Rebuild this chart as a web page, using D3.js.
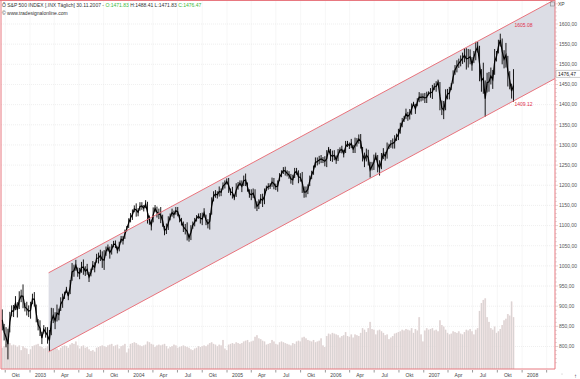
<!DOCTYPE html>
<html><head><meta charset="utf-8">
<script src="https://cdn.jsdelivr.net/npm/d3@7"></script>
<style>
html,body{margin:0;padding:0;background:#fff;}
svg{display:block;}
text{font-family:"Liberation Sans",Arial,sans-serif;}
</style></head><body>
<svg id="chart" width="580" height="379"></svg>
<script>
// ---- data (weekly, Friday dates starting at firstWeek) ----
const firstWeek = "2002-09-20";
const low02  = [840, 815, 798, 768, 835, 875, 873, 890, 872, 893, 910, 895, 887, 877, 873];
const high02 = [892, 856, 848, 844, 886, 902, 903, 925, 910, 937, 941, 954, 908, 911, 902];
const low03  = [869, 905, 899, 860, 840, 826, 806, 832, 822, 807, 789, 828, 858, 843, 862, 865, 888, 896, 918, 933, 915, 930, 963, 973, 988, 973, 967, 983, 978, 975, 978, 960, 974, 990, 984, 1008, 1006, 1012, 995, 990, 1025, 1036, 1018, 1028, 1046, 1044, 1031, 1036, 1058, 1053, 1067, 1086];
const high03 = [911, 931, 935, 904, 868, 865, 836, 853, 848, 848, 841, 896, 895, 885, 904, 894, 922, 931, 936, 948, 935, 965, 1007, 1003, 1015, 996, 995, 1010, 1016, 999, 1005, 985, 993, 1012, 1009, 1030, 1033, 1040, 1036, 1039, 1048, 1053, 1048, 1054, 1062, 1063, 1048, 1060, 1074, 1074, 1090, 1099];
const low04  = [1094, 1108, 1114, 1133, 1122, 1123, 1137, 1139, 1135, 1143, 1105, 1102, 1088, 1108, 1133, 1120, 1116, 1106, 1097, 1076, 1079, 1089, 1113, 1122, 1118, 1127, 1123, 1108, 1100, 1084, 1078, 1063, 1060, 1064, 1092, 1098, 1110, 1117, 1105, 1101, 1120, 1101, 1093, 1090, 1127, 1160, 1169, 1167, 1172, 1173, 1189, 1192, 1202];
const high04 = [1118, 1131, 1140, 1150, 1155, 1143, 1158, 1158, 1151, 1163, 1159, 1125, 1115, 1145, 1151, 1147, 1142, 1146, 1127, 1099, 1105, 1123, 1130, 1142, 1137, 1146, 1146, 1127, 1119, 1110, 1104, 1108, 1080, 1101, 1110, 1119, 1126, 1130, 1131, 1132, 1143, 1127, 1116, 1131, 1170, 1185, 1188, 1185, 1197, 1192, 1207, 1212, 1217];
const low05  = [1181, 1175, 1167, 1163, 1171, 1189, 1198, 1183, 1198, 1198, 1184, 1169, 1163, 1168, 1142, 1136, 1141, 1154, 1146, 1153, 1186, 1189, 1191, 1196, 1190, 1188, 1184, 1210, 1220, 1228, 1224, 1222, 1216, 1204, 1201, 1218, 1226, 1205, 1209, 1181, 1169, 1170, 1178, 1198, 1215, 1226, 1244, 1249, 1252, 1255, 1255, 1247];
const high05 = [1218, 1192, 1196, 1177, 1205, 1208, 1212, 1212, 1224, 1229, 1207, 1190, 1190, 1192, 1190, 1160, 1165, 1178, 1179, 1192, 1199, 1205, 1205, 1219, 1218, 1204, 1212, 1230, 1237, 1245, 1246, 1237, 1235, 1228, 1226, 1243, 1243, 1237, 1230, 1233, 1197, 1197, 1202, 1224, 1236, 1249, 1269, 1269, 1273, 1275, 1270, 1272];
const low06  = [1245, 1282, 1260, 1258, 1262, 1253, 1260, 1280, 1279, 1269, 1280, 1295, 1290, 1292, 1280, 1280, 1296, 1303, 1291, 1259, 1245, 1259, 1249, 1219, 1237, 1238, 1263, 1232, 1224, 1240, 1265, 1261, 1266, 1290, 1293, 1291, 1291, 1310, 1312, 1328, 1344, 1357, 1364, 1360, 1363, 1375, 1397, 1377, 1396, 1406, 1408, 1410];
const high06 = [1287, 1295, 1290, 1286, 1287, 1274, 1290, 1294, 1298, 1288, 1310, 1310, 1306, 1315, 1300, 1318, 1317, 1326, 1327, 1295, 1281, 1291, 1288, 1258, 1258, 1276, 1281, 1275, 1262, 1280, 1292, 1283, 1306, 1303, 1312, 1316, 1324, 1328, 1340, 1355, 1367, 1372, 1390, 1382, 1389, 1403, 1407, 1402, 1416, 1431, 1428, 1428];
const low07  = [1404, 1404, 1423, 1417, 1414, 1436, 1432, 1448, 1386, 1374, 1364, 1386, 1413, 1413, 1436, 1452, 1474, 1480, 1491, 1495, 1501, 1505, 1487, 1492, 1500, 1484, 1503, 1510, 1529, 1458, 1432, 1427, 1370, 1430, 1432, 1450, 1439, 1474, 1507, 1527, 1544, 1500, 1490, 1492, 1445, 1438, 1415, 1407];
const high07 = [1429, 1432, 1433, 1441, 1449, 1453, 1458, 1462, 1456, 1410, 1409, 1438, 1439, 1444, 1453, 1485, 1498, 1510, 1514, 1522, 1529, 1540, 1540, 1538, 1537, 1518, 1533, 1556, 1556, 1546, 1488, 1504, 1460, 1479, 1481, 1492, 1486, 1538, 1533, 1561, 1576, 1564, 1535, 1553, 1521, 1483, 1452, 1488];
// average daily volume per week, billions of shares
const vol02 = [1.35, 1.45, 1.6, 1.75, 1.65, 1.5, 1.55, 1.5, 1.4, 1.5, 1.2, 1.45, 1.35, 1.3, 0.95];
const vol03 = [1.25, 1.45, 1.5, 1.55, 1.6, 1.45, 1.4, 1.3, 1.35, 1.45, 1.6, 1.55, 1.35, 1.4, 1.3, 1.2, 1.35, 1.45, 1.5, 1.45, 1.35, 1.55, 1.65, 1.6, 1.75, 1.5, 1.3, 1.45, 1.5, 1.35, 1.4, 1.25, 1.15, 1.2, 1.1, 1.35, 1.4, 1.45, 1.5, 1.45, 1.4, 1.5, 1.55, 1.6, 1.45, 1.5, 1.55, 1.3, 1.45, 1.5, 1.6, 1.05];
const vol04 = [1.3, 1.6, 1.65, 1.7, 1.65, 1.55, 1.5, 1.45, 1.5, 1.55, 1.75, 1.7, 1.6, 1.55, 1.4, 1.5, 1.55, 1.5, 1.55, 1.6, 1.45, 1.3, 1.4, 1.45, 1.55, 1.5, 1.35, 1.4, 1.45, 1.5, 1.45, 1.4, 1.35, 1.25, 1.2, 1.3, 1.35, 1.45, 1.4, 1.45, 1.5, 1.45, 1.55, 1.65, 1.7, 1.6, 1.55, 1.45, 1.55, 1.5, 1.85, 1.3, 1.2];
const vol05 = [1.55, 1.6, 1.65, 1.6, 1.7, 1.65, 1.6, 1.65, 1.75, 1.8, 1.85, 1.7, 1.75, 1.8, 2.05, 2.15, 1.95, 1.9, 1.8, 1.75, 1.55, 1.6, 1.65, 1.85, 1.75, 1.6, 1.55, 1.7, 1.75, 1.7, 1.65, 1.6, 1.55, 1.5, 1.65, 1.6, 1.75, 1.8, 1.75, 2.0, 2.05, 1.95, 1.85, 1.8, 1.75, 1.85, 1.7, 1.75, 1.8, 1.95, 1.5, 1.4];
const vol06 = [2.1, 2.25, 2.2, 2.3, 2.25, 2.2, 2.15, 2.0, 2.1, 2.15, 2.35, 2.1, 2.05, 2.2, 2.0, 2.2, 2.15, 2.1, 2.3, 2.6, 2.5, 2.35, 2.6, 3.0, 2.55, 2.5, 2.2, 2.45, 2.5, 2.4, 2.3, 2.15, 2.2, 1.9, 2.0, 2.1, 2.25, 2.3, 2.35, 2.4, 2.5, 2.45, 2.55, 2.5, 2.45, 2.6, 2.3, 2.55, 2.45, 3.3, 2.2, 1.75];
const vol07 = [2.45, 2.6, 2.5, 2.55, 2.6, 2.45, 2.5, 2.4, 3.1, 2.8, 2.7, 2.5, 2.3, 2.2, 2.25, 2.4, 2.35, 2.3, 2.4, 2.25, 2.2, 2.35, 2.5, 2.45, 2.55, 2.4, 2.2, 2.5, 2.6, 3.7, 4.2, 4.4, 4.5, 3.3, 3.0, 2.6, 2.5, 2.7, 2.3, 2.4, 2.55, 2.8, 3.1, 3.2, 3.5, 3.4, 4.3, 3.3];

// regression channel (anchor dates and values)
const channelDates = ["2003-03-11", "2007-11-30"];
const channelLower = [786.8, 1409.12];
const channelUpper = [982.84, 1605.08];

const priceTicks = [800, 850, 900, 950, 1000, 1050, 1100, 1150, 1200, 1250, 1300, 1350, 1400, 1450, 1500, 1550, 1600];
const monthNames = {0: null, 3: "Apr", 6: "Jul", 9: "Okt"};
const lastClose = 1476.47;
const titleParts = [
  {t: "Ô S&P 500 INDEX [.INX Täglich] 30.11.2007 - ", c: "#333"},
  {t: "O:1471.83 ", c: "#3cb83c"},
  {t: "H:1488.41 L:1471.83 ", c: "#333"},
  {t: "C:1476.47", c: "#3cb83c"}
];

// ---- build ----
const lows = [].concat(low02, low03, low04, low05, low06, low07);
const highs = [].concat(high02, high03, high04, high05, high06, high07);
const vols = [].concat(vol02, vol03, vol04, vol05, vol06, vol07);
const parse = d3.utcParse("%Y-%m-%d");
const w0 = parse(firstWeek);
const weeks = lows.map((l, i) => ({date: d3.utcDay.offset(w0, 7 * i), low: l, high: highs[i], vol: vols[i]}));

const L = 1, R = 555, T = 0.5, B = 369;
const x = d3.scaleUtc().domain([Date.UTC(2002, 8, 19), Date.UTC(2008, 4, 2)]).range([2, R]);
const y = d3.scaleLinear().domain([800, 1600]).range([346.5, 24]);
const yv = d3.scaleLinear().domain([0, 6]).range([B, B - 94.2]);

const svg = d3.select("#chart");
svg.append("defs").append("clipPath").attr("id", "plot")
  .append("rect").attr("x", L).attr("y", T).attr("width", R - L).attr("height", B - T);

const plot = svg.append("g").attr("clip-path", "url(#plot)");

// grid
const qTicks = x.ticks(d3.utcMonth.every(3));
plot.selectAll(".vg").data(qTicks).join("line")
  .attr("x1", d => x(d)).attr("x2", d => x(d)).attr("y1", T).attr("y2", B)
  .attr("stroke", "#e4e4e4").attr("stroke-width", 0.6).attr("stroke-dasharray", "1,1");
plot.selectAll(".hg").data(priceTicks).join("line")
  .attr("x1", L).attr("x2", R).attr("y1", d => y(d)).attr("y2", d => y(d))
  .attr("stroke", "#e4e4e4").attr("stroke-width", 0.6).attr("stroke-dasharray", "1,1");

// volume
const bw = x(d3.utcDay.offset(w0, 7)) - x(w0);
plot.selectAll(".vb").data(weeks).join("rect")
  .attr("x", d => x(d.date) - bw / 2).attr("width", bw)
  .attr("y", d => yv(d.vol)).attr("height", d => B - yv(d.vol))
  .attr("fill", "#f0e0e0");
plot.selectAll(".vl").data(weeks).join("rect")
  .attr("x", d => x(d.date) - 0.45).attr("width", 0.9)
  .attr("y", d => yv(d.vol)).attr("height", d => B - yv(d.vol))
  .attr("fill", "#d6d2d2");

// channel
const c0 = parse(channelDates[0]), c1 = parse(channelDates[1]);
const xEnd = x.domain()[1];
const ext = (vals) => vals[0] + (vals[1] - vals[0]) * (xEnd - c0) / (c1 - c0);
const poly = [[c0, channelLower[0]], [xEnd, ext(channelLower)], [xEnd, ext(channelUpper)], [c0, channelUpper[0]]];
plot.append("path")
  .attr("d", d3.line().x(d => x(d[0])).y(d => y(d[1]))(poly) + "Z")
  .attr("fill", "#dcdde5");

// price bars
plot.selectAll(".pb").data(weeks).join("line")
  .attr("x1", d => x(d.date)).attr("x2", d => x(d.date))
  .attr("y1", d => y(d.low)).attr("y2", d => y(d.high))
  .attr("stroke", "#000").attr("stroke-width", 0.9);
plot.append("path").datum(weeks)
  .attr("d", d3.line().x(d => x(d.date)).y(d => y((d.low + d.high) / 2)))
  .attr("fill", "none").attr("stroke", "#000").attr("stroke-width", 1.2);

// channel lines
[channelLower, channelUpper].forEach(v => {
  plot.append("line")
    .attr("x1", x(c0)).attr("y1", y(v[0])).attr("x2", x(xEnd)).attr("y2", y(ext(v)))
    .attr("stroke", "#e8646e").attr("stroke-width", 0.9);
});
svg.append("text").attr("x", x(c1) + 1).attr("y", y(channelUpper[1]) + 5.5)
  .attr("font-size", 5).attr("fill", "#e0304a").text(channelUpper[1].toFixed(2));
svg.append("text").attr("x", x(c1) + 1).attr("y", y(channelLower[1]) + 5.5)
  .attr("font-size", 5).attr("fill", "#e0304a").text(channelLower[1].toFixed(2));

// frame
svg.append("line").attr("x1", 1).attr("x2", 1).attr("y1", 0).attr("y2", B).attr("stroke", "#e87880").attr("stroke-width", 1);
svg.append("line").attr("x1", 0).attr("x2", R).attr("y1", 0.5).attr("y2", 0.5).attr("stroke", "#e87880").attr("stroke-width", 1);
svg.append("line").attr("x1", R).attr("x2", R).attr("y1", 0).attr("y2", B).attr("stroke", "#e87880").attr("stroke-width", 1);
svg.append("line").attr("x1", 1).attr("x2", R).attr("y1", B).attr("y2", B).attr("stroke", "#e87880").attr("stroke-width", 1);

// x axis
const xg = svg.append("g");
qTicks.forEach(d => {
  const px = x(d);
  xg.append("line").attr("x1", px).attr("x2", px).attr("y1", B + 1).attr("y2", B + 3.5)
    .attr("stroke", "#555").attr("stroke-width", 0.6);
  const m = d.getUTCMonth();
  const lab = m === 0 ? String(d.getUTCFullYear()) : monthNames[m];
  if (px + 14 < R) {
    xg.append("text").attr("x", px + 10.5).attr("y", B + 8).attr("text-anchor", "middle")
      .attr("font-size", 5).attr("fill", "#444").text(lab);
  }
});

// right axis
const yg = svg.append("g");
d3.range(760, 1660, 10).forEach(v => {
  const py = y(v);
  if (py < 2 || py > B - 1) return;
  const major = v % 50 === 0;
  yg.append("line").attr("x1", R).attr("x2", R + (major ? 3 : 1.8)).attr("y1", py).attr("y2", py)
    .attr("stroke", "#c9a0a4").attr("stroke-width", 0.5);
});
const fmt = v => d3.format(".2f")(v).replace(".", ",");
priceTicks.forEach(v => {
  yg.append("text").attr("x", 559).attr("y", y(v) + 1.8).attr("font-size", 5).attr("fill", "#555").text(fmt(v));
});
// last value marker
yg.append("rect").attr("x", 556).attr("y", y(lastClose) - 3.6).attr("width", 26).attr("height", 7)
  .attr("fill", "#fff").attr("stroke", "#999").attr("stroke-width", 0.5);
yg.append("text").attr("x", 558).attr("y", y(lastClose) + 1.8).attr("font-size", 5).attr("fill", "#222").text(fmt(lastClose));

// header
const tt = svg.append("text").attr("x", 2).attr("y", 7.2).attr("font-size", 5);
titleParts.forEach(p => tt.append("tspan").attr("fill", p.c).text(p.t));
svg.append("text").attr("x", 2).attr("y", 15.2).attr("font-size", 5).attr("fill", "#333").text("© www.tradesignalonline.com");

// corner icons
svg.append("rect").attr("x", 550.5).attr("y", 2).attr("width", 4).attr("height", 4).attr("fill", "none").attr("stroke", "#777").attr("stroke-width", 0.5);
svg.append("text").attr("x", 558).attr("y", 6.3).attr("font-size", 5).attr("fill", "#444").text("XP");
svg.append("text").attr("x", 574).attr("y", 378).attr("font-size", 6).attr("fill", "#333").text("↑");
svg.append("circle").attr("cx", 562).attr("cy", 374).attr("r", 0.4).attr("fill", "#777");
</script>
</body></html>
